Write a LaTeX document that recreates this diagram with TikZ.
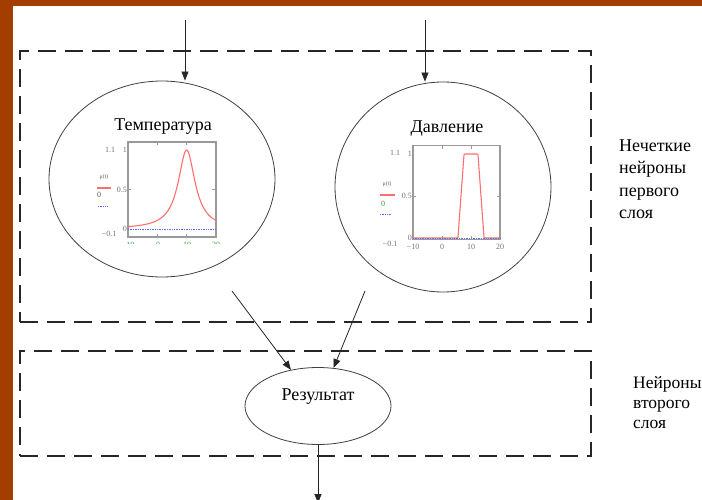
\documentclass[tikz,border=0pt]{standalone}
\usepackage{fontspec}
\setmainfont{Liberation Serif}
\usetikzlibrary{positioning, arrows.meta, shapes.geometric}
\definecolor{slideOrange}{HTML}{A33D00}
\definecolor{plotRed}{HTML}{FF6F6F}
\definecolor{plotBlue}{HTML}{5A6BFF}
\definecolor{plotGray}{HTML}{9A9A9A}
\definecolor{plotGreen}{HTML}{3E9A3E}
\tikzset{
  every node/.style={font=\fontsize{18}{22.5}\selectfont},
  arr/.style={-{Triangle[length=9pt, width=7pt]}, line width=0.8pt, black!85},
  layerbox/.style={draw=black!85, line width=2.6pt, dash pattern=on 18pt off 9pt,
                   inner sep=0pt},
  neuron/.style={draw=black!75, ellipse, line width=0.8pt, inner sep=0pt},
  frm/.style={draw=plotGray, line width=1.4pt},
  minitick/.style={plotGray, line width=0.6pt},
  curve/.style={plotRed, line width=1.1pt},
  zeroline/.style={plotBlue, densely dotted, line width=0.7pt},
  ticklbl/.style={font=\fontsize{8}{8}\selectfont, text=black!55, inner sep=1pt},
  mulbl/.style={font=\fontsize{6}{6}\selectfont, text=black!60, inner sep=0pt},
  note/.style={align=left, anchor=west, inner sep=0pt},
}

\begin{document}
\begin{tikzpicture}[x=1pt, y=-1pt]
  \useasboundingbox (0,0) rectangle (702,500);
  % slide background
  \fill[white] (0,0) rectangle (702,500);
  \fill[slideOrange] (0,0) rectangle (702,6);
  \fill[slideOrange] (0,0) rectangle (13,500);

  % the two layers
  \node[layerbox, minimum width=571pt, minimum height=271pt] (first) at (305.5,186.5) {};
  \node[layerbox, minimum width=571pt, minimum height=105pt] (second) at (305.5,403.5) {};

  % neurons
  \node[neuron, minimum width=226pt, minimum height=196pt] (temp) at (162,179) {};
  \node[neuron, minimum width=216pt, minimum height=210pt] (press) at (443,187) {};
  \node[neuron, minimum width=146pt, minimum height=77pt] (res) at (318,406) {};
  \node (tempLbl) at (163,127) {Температура};
  \node (pressLbl) at (447,129) {Давление};
  \node (resLbl) at (318,397) {Результат};

  % membership plot, temperature
  \begin{scope}[shift={(157.3,229)}, x=2.933pt, y=79pt]
    \draw[frm] (-10,-0.1) rectangle (20,1.1);
    \draw[minitick] (0,-0.1) -- ++(0,0.04) (10,-0.1) -- ++(0,0.04)
      (0,1.1) -- ++(0,-0.04) (10,1.1) -- ++(0,-0.04)
      (-10,0.5) -- ++(1.2,0) (20,0.5) -- ++(-1.2,0);
    \draw[zeroline] (-10,0) -- (20,0);
    \draw[curve] plot[domain=-10:20, samples=90, smooth]
      (\x, {1/(1+((\x-10)/3.5)*((\x-10)/3.5))});
    \node[ticklbl, anchor=east] (tT1) at (-10,1) {1};
    \node[ticklbl, anchor=east] (tT5) at (-10,0.5) {0.5};
    \node[ticklbl, anchor=east] (tT0) at (-10,0) {0};
  \end{scope}
  \begin{scope}
    \clip (115,238) rectangle (235,243);
    \foreach \px/\t [count=\i] in {128/−10, 158/0, 187/10, 216/20}
      \node[ticklbl, text=plotGreen] (xT\i) at (\px,245) {\t};
  \end{scope}
  \node[ticklbl] (hT) at (110,150) {1.1};
  \node[mulbl] (muT) at (104,177) {μ(t)};
  \coordinate (redT) at (97,188);
  \draw[curve] (redT) -- ++(14,0);
  \node[ticklbl, text=black!65] (zT) at (99,195) {0};
  \coordinate (bluT) at (98,206);
  \draw[zeroline] (bluT) -- ++(10,0);
  \node[ticklbl] (lT) at (109,234) {−0.1};

  % membership plot, pressure
  \begin{scope}[shift={(442,238)}, x=2.9pt, y=84pt]
    \draw[frm] (-10,-0.02) rectangle (20,1.1);
    \draw[minitick] (0,-0.02) -- ++(0,0.04) (10,-0.02) -- ++(0,0.04)
      (0,1.1) -- ++(0,-0.04) (10,1.1) -- ++(0,-0.04)
      (-10,0.5) -- ++(1.2,0) (20,0.5) -- ++(-1.2,0);
    \draw[curve, rounded corners=1pt] (-10,0) -- (5.5,0) -- (7.6,1) -- (12.4,1)
      -- (14.5,0) -- (20,0);
    \draw[zeroline] (-10,0) -- (20,0);
    \node[ticklbl, anchor=east] (tP1) at (-10,1) {1};
    \node[ticklbl, anchor=east] (tP5) at (-10,0.5) {0.5};
    \node[ticklbl, anchor=east] (tP0) at (-10,0) {0};
    \foreach \t [count=\i] in {−10, 0, 10, 20}
      \node[ticklbl, anchor=north] (xP\i) at ({(\i-2)*10},-0.06) {\t};
  \end{scope}
  \node[ticklbl] (hP) at (395,153) {1.1};
  \node[mulbl] (muP) at (387,184) {μ(t)};
  \coordinate (redP) at (380,195);
  \draw[curve] (redP) -- ++(15,0);
  \node[ticklbl, text=plotGreen] (zP) at (383,204) {0};
  \coordinate (bluP) at (380,214);
  \draw[zeroline] (bluP) -- ++(11,0);
  \node[ticklbl] (lP) at (390,244) {−0.1};

  % connectors
  \coordinate (inT) at (185,20);
  \coordinate (inP) at (425,20);
  \coordinate (fromT) at (232,291);
  \coordinate (fromP) at (365,291);
  \coordinate (out) at (318,503);
  \draw[arr] (inT) -- (inT |- temp.north);
  \draw[arr] (inP) -- (inP |- press.north);
  \draw[arr] (fromT) -- (res);
  \draw[arr] (fromP) -- (res);
  \draw[arr] (res) -- (out);

  % layer notes
  \node[note] (firstNote) at (619,179) {Нечеткие\\нейроны\\первого\\слоя};
  \node[note, font=\fontsize{17.5}{20}\selectfont] (secondNote) at (633,403)
    {Нейроны\\второго\\слоя};
\end{tikzpicture}
\end{document}
